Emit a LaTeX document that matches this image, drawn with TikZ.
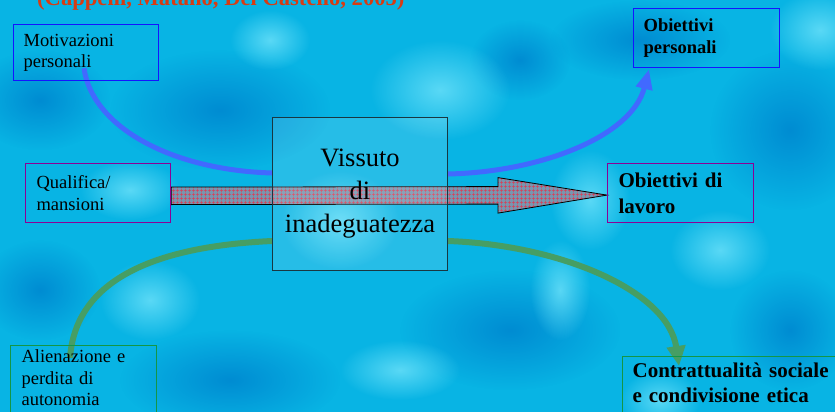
\documentclass[tikz,border=0pt]{standalone}
\usepackage{fontspec}
\setmainfont{Liberation Serif}
\usetikzlibrary{arrows.meta,calc,patterns,fadings}
\pgfdeclarelayer{bg}
\pgfdeclarelayer{mid}
\pgfsetlayers{bg,mid,main}
\tikzfading[name=softblob, inner color=transparent!0, outer color=transparent!100]
\pgfdeclarepatternformonly{redgrid}{\pgfqpoint{0pt}{0pt}}{\pgfqpoint{4pt}{4pt}}{\pgfqpoint{4pt}{4pt}}%
{\pgfsetlinewidth{0.7pt}%
 \pgfpathmoveto{\pgfqpoint{0pt}{2pt}}\pgfpathlineto{\pgfqpoint{4pt}{2pt}}%
 \pgfpathmoveto{\pgfqpoint{2pt}{0pt}}\pgfpathlineto{\pgfqpoint{2pt}{4pt}}%
 \pgfusepath{stroke}}
\definecolor{bgbase}{RGB}{8,180,228}
\definecolor{bglight}{RGB}{110,226,250}
\definecolor{bgdark}{RGB}{0,140,210}
\definecolor{boxblue}{RGB}{20,20,255}
\definecolor{boxpurple}{RGB}{140,0,150}
\definecolor{boxgreen}{RGB}{20,150,70}
\definecolor{curveblue}{RGB}{65,105,255}
\definecolor{curvegreen}{RGB}{70,158,100}
\definecolor{titlered}{RGB}{215,60,20}
\definecolor{arrowfill}{RGB}{120,150,175}
\definecolor{arrowgrid}{RGB}{220,60,85}
\definecolor{visborder}{RGB}{25,55,65}
\tikzset{
  lbl/.style={draw, line width=1.2pt, anchor=north west, align=left, inner ysep=0pt,
    font=\fontsize{18.5}{21.5}\selectfont},
  lblbold/.style={lbl, font=\bfseries\fontsize{18.5}{21.5}\selectfont},
  lblbig/.style={lbl, font=\bfseries\fontsize{21}{25.5}\selectfont},
  curve/.style={line width=5pt, draw=curveblue},
  gcurve/.style={line width=6pt, draw=curvegreen},
  light/.style={fill=bglight, path fading=softblob, fill opacity=0.8},
  dark/.style={fill=bgdark, path fading=softblob},
}
\begin{document}
\begin{tikzpicture}[x=1pt,y=-1pt]
\useasboundingbox (0,0) rectangle (835,412);
\begin{pgfonlayer}{bg}
\clip (0,0) rectangle (835,412);
\fill[bgbase] (0,0) rectangle (835,412);
\fill[dark] (220,110) ellipse (110 and 60);
\fill[dark] (790,130) ellipse (80 and 80);
\fill[dark] (510,330) ellipse (110 and 60);
\fill[dark] (230,380) ellipse (110 and 50);
\fill[dark] (40,290) ellipse (60 and 50);
\fill[dark] (40,100) ellipse (70 and 50);
\fill[dark] (640,40) ellipse (90 and 40);
\fill[dark] (790,330) ellipse (60 and 60);
\fill[dark] (520,60) ellipse (50 and 40);
\fill[light] (440,90) ellipse (70 and 50);
\fill[light] (340,220) ellipse (60 and 50);
\fill[light] (590,200) ellipse (40 and 50);
\fill[light] (560,290) ellipse (30 and 50);
\fill[light] (150,300) ellipse (50 and 40);
\fill[light] (720,250) ellipse (50 and 40);
\fill[light] (400,370) ellipse (60 and 30);
\fill[light] (820,30) ellipse (50 and 40);
\fill[light] (130,190) ellipse (50 and 30);
\fill[light] (270,40) ellipse (40 and 30);
\fill[light] (660,400) ellipse (40 and 30);
\end{pgfonlayer}

\begin{scope}
\clip (0,0) rectangle (835,412);
% title (cut by the top edge)
\node[anchor=base west, text=titlered, inner sep=0pt,
      font=\bfseries\fontsize{22.6}{26}\selectfont] (title) at (37,6)
      {(Cappelli, Matano, Del Castello, 2005)};

% boxes
\node[lbl, draw=boxblue, minimum width=145pt, minimum height=56pt, inner xsep=10pt, text width=125pt]
  (mot) at (13,24) {Motivazioni\\personali};
\node[lblbold, draw=boxblue, minimum width=146pt, minimum height=59pt, inner xsep=10pt, text width=126pt]
  (obp) at (633,8) {Obiettivi\\personali};
\node[lbl, draw=boxpurple, minimum width=145pt, minimum height=59pt, inner xsep=11pt, text width=123pt]
  (qual) at (25,163) {Qualifica/\\mansioni};
\node[lblbig, draw=boxpurple, minimum width=146pt, minimum height=59pt, inner xsep=11pt, text width=124pt]
  (lav) at (607,163) {Obiettivi di\\lavoro};
\node[lbl, draw=boxgreen, minimum width=146pt, inner xsep=11pt, inner ysep=4.5pt, text width=124pt]
  (alien) at (10,345) {Alienazione e\\perdita di\\autonomia\\\mbox{}};
\node[lblbig, draw=boxgreen, minimum width=230pt, inner xsep=10pt, inner ysep=6.5pt, text width=210pt,
      font=\bfseries\fontsize{21}{25}\selectfont]
  (contr) at (622,356) {Contrattualità sociale\\e condivisione etica\\\mbox{}};

% central box
\node[draw=visborder, line width=1pt, fill=white, fill opacity=0.12, text opacity=1,
      minimum width=175pt, minimum height=153pt, inner sep=0pt, anchor=north west,
      align=center, text width=175pt, font=\fontsize{26.5}{33}\selectfont]
  (vis) at (272,117) {Vissuto\\di\\inadeguatezza};
\end{scope}

\begin{pgfonlayer}{mid}
% curves
\draw[curve] ($(mot.south west)+(71,-13)$) .. controls +(8,58) and +(-102,-3) .. ($(vis.north west)+(0,56)$);
\draw[curve, -{Triangle[length=20pt,width=16pt]}] ($(vis.north east)+(0,57)$) .. controls +(93,-2) and +(-17,67) .. ($(obp.south west)+(16,1)$);
\draw[gcurve] ($(alien.north west)+(60,13)$) .. controls +(4,-58) and +(-152,7) .. ($(vis.north west)+(0,124)$);
\draw[gcurve, -{Triangle[length=20pt,width=18pt]}] ($(vis.north east)+(0,124)$) .. controls +(113,4) and +(-11,-75) .. ($(contr.north west)+(57,10)$);

% big patterned arrow
\coordinate (ast) at ($(qual.east)+(0,2.5)$);
\coordinate (atip) at ($(lav.west)+(0,2)$);
\draw[preaction={fill=arrowfill}, pattern=redgrid, pattern color=arrowgrid, line width=0.8pt]
  ($(ast)+(0,-8.5)$) -- ($(atip)+(-109,-8.5)$) -- ($(atip)+(-109,-17.5)$) -- (atip)
  -- ($(atip)+(-109,18)$) -- ($(atip)+(-109,9)$) -- ($(ast)+(0,9)$) -- cycle;
\end{pgfonlayer}
\end{tikzpicture}
\end{document}
